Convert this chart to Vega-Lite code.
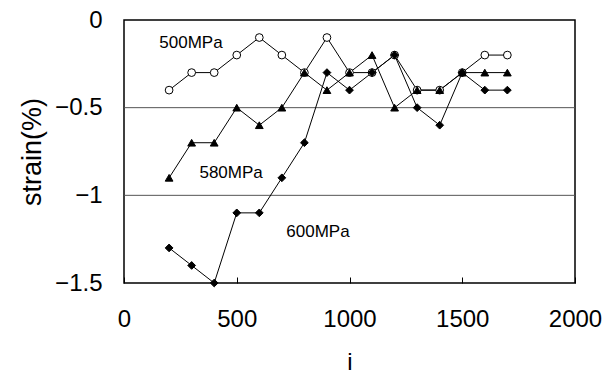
{
  "$schema": "https://vega.github.io/schema/vega-lite/v6.json",
  "width": 451,
  "height": 263,
  "autosize": {"type": "none"},
  "padding": {"left": 124, "top": 20, "right": 41, "bottom": 97},
  "background": "white",
  "config": {
    "view": {"stroke": "black", "strokeWidth": 1.5},
    "font": "Liberation Sans, Arial"
  },
  "datasets": {
    "series": [
      {"s": "500MPa", "i": 200, "strain": -0.4},
      {"s": "500MPa", "i": 300, "strain": -0.3},
      {"s": "500MPa", "i": 400, "strain": -0.3},
      {"s": "500MPa", "i": 500, "strain": -0.2},
      {"s": "500MPa", "i": 600, "strain": -0.1},
      {"s": "500MPa", "i": 700, "strain": -0.2},
      {"s": "500MPa", "i": 800, "strain": -0.3},
      {"s": "500MPa", "i": 900, "strain": -0.1},
      {"s": "500MPa", "i": 1000, "strain": -0.3},
      {"s": "500MPa", "i": 1100, "strain": -0.3},
      {"s": "500MPa", "i": 1200, "strain": -0.2},
      {"s": "500MPa", "i": 1300, "strain": -0.4},
      {"s": "500MPa", "i": 1400, "strain": -0.4},
      {"s": "500MPa", "i": 1500, "strain": -0.3},
      {"s": "500MPa", "i": 1600, "strain": -0.2},
      {"s": "500MPa", "i": 1700, "strain": -0.2},
      {"s": "580MPa", "i": 200, "strain": -0.9},
      {"s": "580MPa", "i": 300, "strain": -0.7},
      {"s": "580MPa", "i": 400, "strain": -0.7},
      {"s": "580MPa", "i": 500, "strain": -0.5},
      {"s": "580MPa", "i": 600, "strain": -0.6},
      {"s": "580MPa", "i": 700, "strain": -0.5},
      {"s": "580MPa", "i": 800, "strain": -0.3},
      {"s": "580MPa", "i": 900, "strain": -0.4},
      {"s": "580MPa", "i": 1000, "strain": -0.3},
      {"s": "580MPa", "i": 1100, "strain": -0.2},
      {"s": "580MPa", "i": 1200, "strain": -0.5},
      {"s": "580MPa", "i": 1300, "strain": -0.4},
      {"s": "580MPa", "i": 1400, "strain": -0.4},
      {"s": "580MPa", "i": 1500, "strain": -0.3},
      {"s": "580MPa", "i": 1600, "strain": -0.3},
      {"s": "580MPa", "i": 1700, "strain": -0.3},
      {"s": "600MPa", "i": 200, "strain": -1.3},
      {"s": "600MPa", "i": 300, "strain": -1.4},
      {"s": "600MPa", "i": 400, "strain": -1.5},
      {"s": "600MPa", "i": 500, "strain": -1.1},
      {"s": "600MPa", "i": 600, "strain": -1.1},
      {"s": "600MPa", "i": 700, "strain": -0.9},
      {"s": "600MPa", "i": 800, "strain": -0.7},
      {"s": "600MPa", "i": 900, "strain": -0.3},
      {"s": "600MPa", "i": 1000, "strain": -0.4},
      {"s": "600MPa", "i": 1100, "strain": -0.3},
      {"s": "600MPa", "i": 1200, "strain": -0.2},
      {"s": "600MPa", "i": 1300, "strain": -0.5},
      {"s": "600MPa", "i": 1400, "strain": -0.6},
      {"s": "600MPa", "i": 1500, "strain": -0.3},
      {"s": "600MPa", "i": 1600, "strain": -0.4},
      {"s": "600MPa", "i": 1700, "strain": -0.4}
    ],
    "labels": [
      {"label": "500MPa", "i": 297, "strain": -0.13},
      {"label": "580MPa", "i": 475, "strain": -0.87},
      {"label": "600MPa", "i": 860, "strain": -1.21}
    ],
    "grid": [{"g": -0.5}, {"g": -1}]
  },
  "layer": [
    {
      "data": {"name": "grid"},
      "mark": {"type": "rule", "color": "#555555", "strokeWidth": 1},
      "encoding": {
        "y": {"field": "g", "type": "quantitative", "scale": {"domain": [-1.5, 0], "nice": false, "zero": false}}
      }
    },
    {
      "data": {"name": "series"},
      "mark": {"type": "line", "color": "black", "strokeWidth": 1},
      "encoding": {
        "x": {"field": "i", "type": "quantitative"},
        "y": {"field": "strain", "type": "quantitative"},
        "detail": {"field": "s"}
      }
    },
    {
      "data": {"name": "series"},
      "mark": {"type": "point", "filled": true, "stroke": "black", "strokeWidth": 1, "opacity": 1},
      "encoding": {
        "x": {"field": "i", "type": "quantitative"},
        "y": {"field": "strain", "type": "quantitative"},
        "shape": {"field": "s", "type": "nominal", "scale": {"domain": ["500MPa", "580MPa", "600MPa"], "range": ["circle", "triangle-up", "diamond"]}, "legend": null},
        "fill": {"field": "s", "type": "nominal", "scale": {"domain": ["500MPa", "580MPa", "600MPa"], "range": ["white", "black", "black"]}, "legend": null},
        "size": {"value": 60}
      }
    },
    {
      "data": {"name": "labels"},
      "mark": {"type": "text", "fontSize": 17, "color": "black", "align": "center", "baseline": "middle"},
      "encoding": {
        "x": {"field": "i", "type": "quantitative"},
        "y": {"field": "strain", "type": "quantitative"},
        "text": {"field": "label"}
      }
    }
  ],
  "encoding": {
    "x": {
      "type": "quantitative",
      "scale": {"domain": [0, 2000], "nice": false},
      "axis": {
        "title": "i", "titleFontSize": 24, "titleFontWeight": "normal", "titlePadding": 19,
        "values": [0, 500, 1000, 1500, 2000], "format": "d", "labelFontSize": 24, "labelPadding": 30,
        "domain": false, "grid": false, "tickSize": -6, "tickColor": "black", "labelColor": "black", "titleColor": "black",
        "labelFlush": false
      }
    },
    "y": {
      "type": "quantitative",
      "scale": {"domain": [-1.5, 0], "nice": false, "zero": false},
      "axis": {
        "title": "strain(%)", "titleFontSize": 27, "titleFontWeight": "normal", "titlePadding": 8,
        "values": [0, -0.5, -1, -1.5], "format": "~g", "labelFontSize": 24, "labelPadding": 22,
        "domain": false, "grid": false, "tickSize": 0, "labelColor": "black", "titleColor": "black",
        "labelFlush": false
      }
    }
  }
}
